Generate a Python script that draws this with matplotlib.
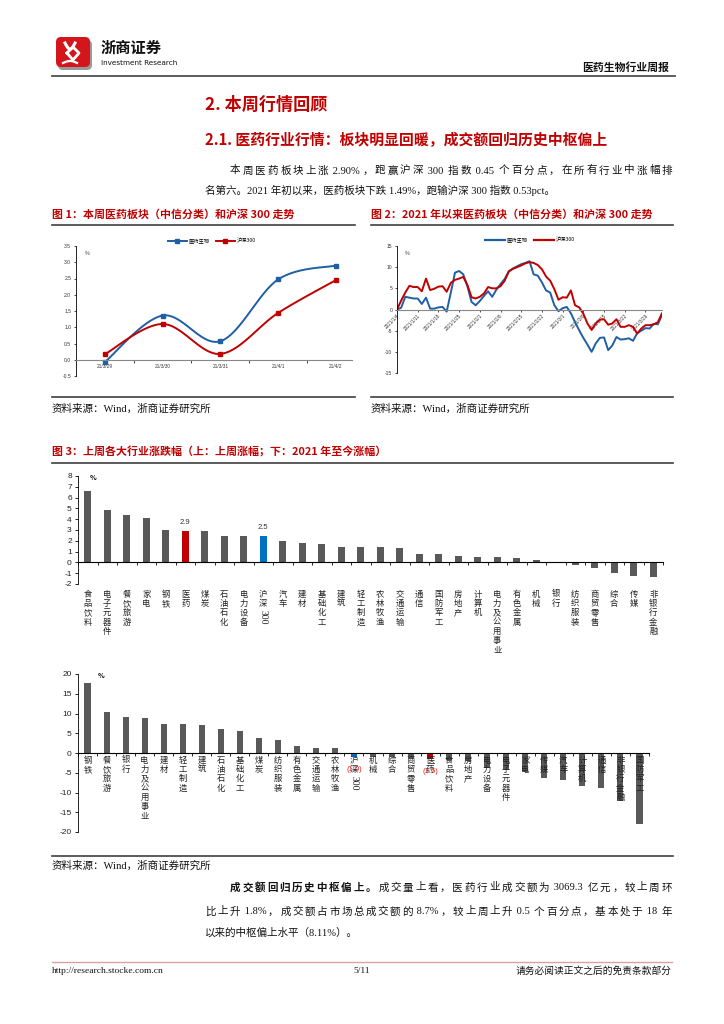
import numpy as np
import pandas as pd
import matplotlib
matplotlib.use("Agg")
import matplotlib.pyplot as plt
from matplotlib.lines import Line2D
from matplotlib.patches import FancyBboxPatch
from matplotlib.transforms import blended_transform_factory

# ---------------- data ----------------
week_dates = ["21/3/29", "21/3/30", "21/3/31", "21/4/1", "21/4/2"]
med_week = [-0.07, 1.36, 0.57, 2.47, 2.90]
hs_week = [0.17, 1.10, 0.18, 1.44, 2.45]

ytd_dates = pd.bdate_range("2021-01-04", "2021-04-02")
med_ytd = [0, 0.4, 3.0, 2.8, 2.6, 2.6, 1.3, 2.8, 0.2, 0.2,
           0.5, 0.6, -0.5, 4.0, 8.7, 9.1, 8.3, 5.5, 1.8, 1.0,
           2.0, 3.2, 4.3, 3.0, 4.7, 6.0, 7.2, 9.0, 9.7, 10.2,
           10.7, 11.0, 11.4, 8.3, 8.0, 6.4, 4.5, 4.0, 1.0, -0.4,
           0.3, 0.6, -0.9, -3.0, -4.9, -6.7, -8.3, -10.0, -8.0, -6.7,
           -6.6, -9.6, -8.5, -6.5, -7.1, -7.0, -6.8, -7.4, -5.6, -5.0,
           -4.4, -4.5, -3.4, -3.5, -1.3]
hs_ytd = [0, 2.1, 4.0, 5.6, 5.3, 5.3, 4.3, 7.3, 4.6, 4.9,
          5.4, 5.5, 4.2, 6.3, 7.0, 7.3, 7.7, 5.8, 2.9, 2.6,
          3.0, 3.8, 5.3, 5.0, 5.0, 5.5, 6.8, 9.0, 9.6, 10.0,
          10.4, 10.9, 11.2, 11.0, 10.5, 9.5, 7.8, 6.8, 4.8, 2.3,
          2.9, 2.8, 4.5, 1.0, 0.5, -1.0, -3.3, -4.8, -3.3, -2.4,
          -2.3, -3.6, -3.3, -2.3, -4.1, -4.1, -3.7, -4.1, -5.7, -4.5,
          -3.7, -3.7, -3.5, -3.0, -0.9]

top_names = ["食品饮料", "电子元器件", "餐饮旅游", "家电", "钢铁", "医药", "煤炭", "石油石化",
             "电力设备", "沪深300", "汽车", "建材", "基础化工", "建筑", "轻工制造", "农林牧渔",
             "交通运输", "通信", "国防军工", "房地产", "计算机", "电力及公用事业", "有色金属",
             "机械", "银行", "纺织服装", "商贸零售", "综合", "传媒", "非银行金融"]
top_vals = [6.6, 4.81, 4.35, 4.07, 3.0, 2.93, 2.9, 2.47, 2.44, 2.46, 1.94, 1.82, 1.7, 1.39,
            1.39, 1.39, 1.33, 0.77, 0.77, 0.62, 0.49, 0.49, 0.4, 0.25, -0.06, -0.2, -0.5,
            -0.96, -1.23, -1.36]

bottom_names = ["钢铁", "餐饮旅游", "银行", "电力及公用事业", "建材", "轻工制造", "建筑", "石油石化",
                "基础化工", "煤炭", "纺织服装", "有色金属", "交通运输", "农林牧渔", "沪深300", "机械",
                "综合", "商贸零售", "医药", "食品饮料", "房地产", "电力设备", "电子元器件", "家电",
                "传媒", "汽车", "计算机", "通信", "非银行金融", "国防军工"]
bottom_vals = [17.7, 10.3, 9.1, 8.9, 7.3, 7.3, 7.2, 6.2, 5.5, 3.8, 3.2, 1.7, 1.3, 1.2, -0.96,
               -1.0, -1.1, -1.2, -1.49, -1.7, -1.9, -3.8, -4.2, -4.8, -6.3, -6.9, -8.4, -8.8,
               -12.2, -18.1]

# ---------------- style ----------------
CJK = ["Noto Sans CJK SC", "DejaVu Sans"]
SERIF = ["Liberation Serif", "Noto Sans CJK SC"]
SANS = ["Liberation Sans", "DejaVu Sans"]
RED = "#C00000"
LINE_BLUE = "#1F5FA5"
BAR_BLUE = "#0070C0"
BAR_GREY = "#595959"
INK = "#111111"
BODY = 7.6
plt.rcParams["font.family"] = CJK
plt.rcParams["axes.unicode_minus"] = False

W, H = 724, 1024
fig = plt.figure(figsize=(W / 100, H / 100), dpi=100)
renderer = fig.canvas.get_renderer()


def fx(x):
    return x / W


def fy(y):
    return 1 - y / H


def txt(x, y, s, **kw):
    kw.setdefault("va", "center")
    return fig.text(fx(x), fy(y), s, **kw)


def hline(x0, x1, y, color="#404040", lw=1.2):
    fig.add_artist(Line2D([fx(x0), fx(x1)], [fy(y), fy(y)], color=color, lw=lw))


def axes_px(left, top, right, bottom):
    return fig.add_axes([fx(left), fy(bottom), (right - left) / W, (bottom - top) / H])


def split_tokens(s):
    out, i = [], 0
    while i < len(s):
        if s[i].isascii():
            j = i
            while j < len(s) and s[j].isascii():
                j += 1
            out.append(s[i:j])
            i = j
        else:
            out.append(s[i])
            i += 1
    return out


def justify(x0, x1, y, parts, size=BODY):
    # parts: (text, bold?) ; spreads the pieces so the line fills x0..x1
    arts = []
    for s, bold in parts:
        for t in split_tokens(s):
            arts.append(fig.text(0, fy(y + 3.5), t, fontsize=size, va="baseline", color=INK,
                                 family=CJK if bold else SERIF,
                                 fontweight="bold" if bold else "normal"))
    widths = [a.get_window_extent(renderer).width for a in arts]
    gap = (x1 - x0 - sum(widths)) / max(len(arts) - 1, 1)
    x = x0
    for a, w in zip(arts, widths):
        a.set_x(fx(x))
        x += w + gap


def smooth(xs, ys, n=30):
    # catmull-rom, close to excel's smoothed line
    pts = np.column_stack([xs, ys]).astype(float)
    p = np.vstack([pts[0], pts, pts[-1]])
    t = np.linspace(0, 1, n)[:, None]
    segs = []
    for i in range(1, len(p) - 2):
        p0, p1, p2, p3 = p[i - 1], p[i], p[i + 1], p[i + 2]
        segs.append(0.5 * (2 * p1 + (-p0 + p2) * t + (2 * p0 - 5 * p1 + 4 * p2 - p3) * t ** 2
                           + (-p0 + 3 * p1 - 3 * p2 + p3) * t ** 3))
    out = np.vstack(segs)
    return out[:, 0], out[:, 1]


def vlabel(ax, x, y_top, s, size=6, step=9.4, color="#222222"):
    tr = blended_transform_factory(ax.transData, fig.transFigure)
    y = y_top
    for t in split_tokens(s):
        if t.isascii():
            h = len(t) * 5.6
            ax.text(x, fy(y - step / 2 + h / 2 + 1), t, transform=tr, rotation=270,
                    ha="center", va="center", fontsize=7, color=color, family=SERIF)
            y += h + 2
        else:
            ax.text(x, fy(y), t, transform=tr, ha="center", va="center",
                    fontsize=size, color=color)
            y += step


def line_axes_style(ax):
    ax.spines["bottom"].set_position(("data", 0))
    ax.spines["bottom"].set_color("#888888")
    ax.spines["left"].set_linewidth(0.6)
    for s in ("top", "right"):
        ax.spines[s].set_visible(False)


# ---------------- page header ----------------
lax = axes_px(50, 33, 100, 75)
lax.set_xlim(0, 50)
lax.set_ylim(42, 0)
lax.axis("off")
lax.add_patch(FancyBboxPatch((8, 7), 34, 30, boxstyle="round,pad=0,rounding_size=5",
                             fc="#9a9a9a", ec="none"))
lax.add_patch(FancyBboxPatch((6, 4), 34, 30, boxstyle="round,pad=0,rounding_size=5",
                             fc="#D4161C", ec="none"))
tt = np.linspace(0, 1, 40)
lax.plot(15 + 10 * tt, 10 + 6 * np.sin(np.pi * tt), color="white", lw=2.2)
lax.plot([17, 23, 29, 23, 17], [20, 14, 20, 27, 20], color="white", lw=2.0)
lax.plot(13 + 14 * tt, 30 - 2 * np.sin(np.pi * tt), color="white", lw=1.6)

txt(101, 48, "浙商证券", fontsize=11, fontweight="bold", color=INK)
txt(101, 63, "Investment Research", fontsize=5.2, color=INK,
    family=["Liberation Sans Narrow", "DejaVu Sans"])
txt(669, 68, "医药生物行业周报", fontsize=7.8, fontweight="bold", ha="right", color=INK)
hline(52, 675, 76, color="#505050", lw=1.3)

# ---------------- section text ----------------
txt(205, 105, "2. 本周行情回顾", fontsize=12.3, fontweight="bold", color=RED)
txt(205, 140, "2.1. 医药行业行情：板块明显回暖，成交额回归历史中枢偏上", fontsize=10.7,
    fontweight="bold", color=RED)
justify(230, 672, 170, [("本周医药板块上涨 2.90%，跑赢沪深 300 指数 0.45 个百分点，在所有行业中涨幅排", False)])
fig.text(fx(205), fy(193.5), "名第六。2021 年初以来，医药板块下跌 1.49%，跑输沪深 300 指数 0.53pct。",
         fontsize=BODY, family=SERIF, color=INK, va="baseline")

txt(52, 214, "图 1：本周医药板块（中信分类）和沪深 300 走势", fontsize=7.9, fontweight="bold", color=RED)
txt(371, 214, "图 2：2021 年以来医药板块（中信分类）和沪深 300 走势", fontsize=7.9,
    fontweight="bold", color=RED)
hline(52, 355, 225)
hline(371, 673, 225)

# ---------------- chart 1 ----------------
ax1 = axes_px(76, 246, 352, 376)
line_axes_style(ax1)
x1 = np.arange(len(week_dates))
for vals, col in [(med_week, LINE_BLUE), (hs_week, RED)]:
    sx, sy = smooth(x1, vals)
    ax1.plot(sx, sy, color=col, lw=1.4)
    ax1.plot(x1, vals, ls="none", marker="s", ms=2.6, color=col)
ax1.set_xlim(-0.5, 4.28)
ax1.set_ylim(-0.5, 3.5)
ax1.set_yticks(np.arange(-0.5, 3.51, 0.5))
ax1.set_yticklabels([f"{v:.1f}" for v in np.arange(-0.5, 3.51, 0.5)], fontsize=3.6,
                    color="#333333", family=SANS)
ax1.set_xticks(x1)
ax1.set_xticklabels(week_dates, fontsize=3.4, color="#333333", family=SANS)
ax1.set_xticks(np.arange(0.5, 4.5, 1), minor=True)
ax1.tick_params(axis="x", which="major", length=0, pad=3)
ax1.tick_params(axis="x", which="minor", length=2, width=0.5)
ax1.tick_params(axis="y", length=1.5, width=0.5, pad=2)
ax1.text(0.03, 0.93, "%", transform=ax1.transAxes, fontsize=3.8, color="#333333")
fig.legend(handles=[Line2D([], [], color=LINE_BLUE, lw=1.4, marker="s", ms=2.6, label="医药生物"),
                    Line2D([], [], color=RED, lw=1.4, marker="s", ms=2.6, label="沪深300")],
           loc="center", bbox_to_anchor=(fx(212), fy(241)), ncol=2, frameon=False,
           fontsize=3.8, handlelength=3.5, columnspacing=1.2, handletextpad=0.4)

# ---------------- chart 2 ----------------
ax2 = axes_px(397, 246, 662, 373)
line_axes_style(ax2)
x2 = np.arange(len(ytd_dates))
ax2.plot(x2, med_ytd, color=LINE_BLUE, lw=1.4)
ax2.plot(x2, hs_ytd, color=RED, lw=1.4)
ax2.set_xlim(0, len(x2) - 1)
ax2.set_ylim(-15, 15)
ax2.set_yticks(range(-15, 16, 5))
ax2.set_yticklabels([str(v) for v in range(-15, 16, 5)], fontsize=3.6, color="#333333",
                    family=SANS)
tick_idx = list(range(0, len(x2), 5))
ax2.set_xticks(tick_idx)
ax2.set_xticklabels([f"{d.year}/{d.month}/{d.day}" for d in ytd_dates[tick_idx]], fontsize=3.4,
                    rotation=45, ha="right", rotation_mode="anchor", color="#333333", family=SANS)
ax2.tick_params(axis="x", length=1.5, width=0.5, pad=1)
ax2.tick_params(axis="y", length=1.5, width=0.5, pad=2)
ax2.text(0.03, 0.93, "%", transform=ax2.transAxes, fontsize=3.8, color="#333333")
fig.legend(handles=[Line2D([], [], color=LINE_BLUE, lw=1.6, label="医药生物"),
                    Line2D([], [], color=RED, lw=1.6, label="沪深300")],
           loc="center", bbox_to_anchor=(fx(530), fy(240)), ncol=2, frameon=False,
           fontsize=3.8, handlelength=3.8, columnspacing=1.2, handletextpad=0.4)

hline(52, 355, 397)
hline(371, 673, 397)
txt(52, 409, "资料来源：Wind，浙商证券研究所", fontsize=7.6, family=SERIF, color=INK)
txt(371, 409, "资料来源：Wind，浙商证券研究所", fontsize=7.6, family=SERIF, color=INK)

# ---------------- chart 3 ----------------
txt(52, 452, "图 3：上周各大行业涨跌幅（上：上周涨幅；下：2021 年至今涨幅）", fontsize=7.9,
    fontweight="bold", color=RED)
hline(52, 673, 463)


def bar_colors(names):
    return [RED if n == "医药" else BAR_BLUE if n == "沪深300" else BAR_GREY for n in names]


def style_bar_axes(ax, n, ticks):
    ax.spines["bottom"].set_position(("data", 0))
    for s in ("top", "right"):
        ax.spines[s].set_visible(False)
    ax.spines["left"].set_linewidth(0.6)
    ax.spines["bottom"].set_linewidth(0.8)
    ax.set_xlim(-0.5, n - 0.5)
    ax.set_yticks(ticks)
    ax.set_yticklabels([str(t) for t in ticks], fontsize=6, color="#222222", family=SANS)
    ax.set_xticks(np.arange(-0.5, n, 1))
    ax.set_xticklabels([])
    ax.tick_params(axis="x", length=2.5, width=0.6, direction="out")
    ax.tick_params(axis="y", length=2.5, width=0.6, pad=2)


ax3 = axes_px(78, 476, 663, 584)
p3 = np.arange(len(top_names))
ax3.bar(p3, top_vals, width=0.34, color=bar_colors(top_names))
ax3.set_ylim(-2, 8)
style_bar_axes(ax3, len(top_names), list(range(-2, 9)))
for i, (n, v) in enumerate(zip(top_names, top_vals)):
    if n in ("医药", "沪深300"):
        ax3.text(i, v + 0.75, f"{v:.1f}", ha="center", va="center", fontsize=5.5,
                 color="#333333", family=SANS)
    vlabel(ax3, i, 594, n)
ax3.text(0.02, 0.985, "%", transform=ax3.transAxes, fontsize=5, fontweight="bold", va="center")

ax4 = axes_px(78, 674, 649, 832)
p4 = np.arange(len(bottom_names))
ax4.bar(p4, bottom_vals, width=0.32, color=bar_colors(bottom_names))
ax4.set_ylim(-20, 20)
style_bar_axes(ax4, len(bottom_names), list(range(-20, 21, 5)))
for i, n in enumerate(bottom_names):
    vlabel(ax4, i, 760, n)
for i, (n, v) in enumerate(zip(bottom_names, bottom_vals)):
    if n in ("医药", "沪深300"):
        lbl = f"({abs(v):.1f})" if v < 0 else f"{v:.1f}"
        ax4.text(i, v - 3.2, lbl, ha="center", va="center", fontsize=5.5, color="#E02020",
                 family=SANS)
ax4.text(0.035, 0.99, "%", transform=ax4.transAxes, fontsize=5, fontweight="bold", va="center")

hline(52, 673, 856)
txt(52, 866, "资料来源：Wind，浙商证券研究所", fontsize=7.6, family=SERIF, color=INK)

# ---------------- closing paragraph ----------------
justify(230, 672, 887, [("成交额回归历史中枢偏上。", True),
                        ("成交量上看，医药行业成交额为 3069.3 亿元，较上周环", False)])
justify(205, 672, 911, [("比上升 1.8%，成交额占市场总成交额的 8.7%，较上周上升 0.5 个百分点，基本处于 18 年", False)])
fig.text(fx(205), fy(935.5), "以来的中枢偏上水平（8.11%）。", fontsize=BODY, family=SERIF, color=INK,
         va="baseline")

# ---------------- footer ----------------
hline(52, 672, 962, color="#D9A3A3", lw=1.0)
txt(52, 971, "http://research.stocke.com.cn", fontsize=6.8, family=SERIF, color=INK)
txt(362, 971, "5/11", fontsize=6.8, family=SERIF, color=INK, ha="center")
txt(672, 971, "请务必阅读正文之后的免责条款部分", fontsize=7, family=SERIF, color=INK, ha="right")

fig.savefig("out.png", dpi=100)
